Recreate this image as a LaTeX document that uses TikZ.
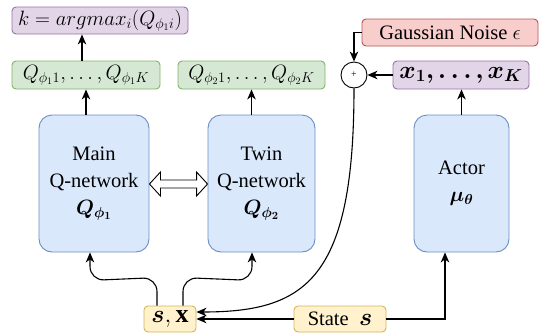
\documentclass[tikz,border=0pt]{standalone}
\usepackage{fontspec}
\usepackage{amsmath,bm}
\setmainfont{Liberation Serif}
\usetikzlibrary{arrows.meta,calc}
\definecolor{bfill}{HTML}{DAE8FC}\definecolor{bline}{HTML}{6C8EBF}
\definecolor{gfill}{HTML}{D5E8D4}\definecolor{gline}{HTML}{82B366}
\definecolor{pfill}{HTML}{E1D5E7}\definecolor{pline}{HTML}{9673A6}
\definecolor{rfill}{HTML}{F8CECC}\definecolor{rline}{HTML}{B85450}
\definecolor{yfill}{HTML}{FFF2CC}\definecolor{yline}{HTML}{D6B656}
\begin{document}
\begin{tikzpicture}[x=1pt,y=-1pt,
  base/.style={draw, line width=0.9pt, rounded corners=4pt, inner sep=0pt, font=\fontsize{20.5}{24}\selectfont},
  purp/.style={base, fill=pfill, draw=pline},
  grn/.style={base, fill=gfill, draw=gline},
  red/.style={base, fill=rfill, draw=rline},
  yel/.style={base, fill=yfill, draw=yline},
  net/.style={base, fill=bfill, draw=bline, rounded corners=13pt, align=center, font=\fontsize{20.5}{27}\selectfont},
  conn/.style={line width=1.1pt, -{Stealth[length=10pt,width=8.5pt,inset=3pt]}}
]
\useasboundingbox (0,0) rectangle (542,333);
\node[purp, minimum width=176pt, minimum height=27pt] (argmax) at (100,20.5) {$k=argmax_i(Q_{\phi_1 i})$};
\node[grn, minimum width=148pt, minimum height=28pt] (q1) at (86,75) {$Q_{\phi_1 1},\ldots,Q_{\phi_1 K}$};
\node[grn, minimum width=147pt, minimum height=28pt] (q2) at (251.5,75) {$Q_{\phi_2 1},\ldots,Q_{\phi_2 K}$};
\node[red, minimum width=176pt, minimum height=27pt] (noise) at (450,32.5) {Gaussian Noise $\epsilon$};
\node[draw, circle, line width=0.9pt, minimum size=26pt, inner sep=0pt, font=\fontsize{10}{10}\selectfont] (plus) at (354,75) {+};
\node[purp, minimum width=136pt, minimum height=28pt, font=\fontsize{25}{28}\selectfont] (xs) at (461,75) {$\bm{x_1,\ldots,x_K}$};
\node[net, minimum width=110pt, minimum height=137pt] (main) at (94,183.5) {Main\\Q-network\\{\fontsize{22}{27}\selectfont$\bm{Q_{\phi_1}}$}};
\node[net, minimum width=107pt, minimum height=137pt] (twin) at (261.5,183.5) {Twin\\Q-network\\{\fontsize{22}{27}\selectfont$\bm{Q_{\phi_2}}$}};
\node[net, minimum width=95pt, minimum height=137pt] (actor) at (461.5,183.5) {Actor\\{\fontsize{22}{27}\selectfont$\bm{\mu_\theta}$}};
\node[yel, minimum width=52pt, minimum height=26pt, font=\fontsize{26}{28}\selectfont] (sx) at (170,319) {$\bm{s},\mathbf{x}$};
\node[yel, minimum width=92pt, minimum height=26pt] (state) at (340,319) {State\ \ {\fontsize{24}{26}\selectfont$\bm{s}$}};
% arrows
\coordinate (qa) at ($(q1.north)+(-4,0)$);
\draw[conn] (qa) -- (qa |- argmax.south);
\draw[conn] (main.north -| q1.north) -- (q1.south);
\draw[conn] (twin.north -| q2.north) -- (q2.south);
\draw[conn] (actor.north) -- (actor.north |- xs.south);
\draw[conn] (xs.west) -- (plus.east);
\draw[conn] (noise.west) -| (plus.north);
\draw[conn] (plus.south) .. controls ($(plus.south)+(0,190)$) and ($(sx.east)+(110,-7)$) .. ($(sx.east)+(0,-7)$);
\draw[conn] (state.west) -- (sx.east);
\coordinate (sr) at ($(actor.south)+(-16.5,0)$);
\draw[conn] (state.east) -| (sr);
\draw[conn, rounded corners=14pt] ($(sx.north)+(-13,0)$) -- ++(0,-28) -- ($(main.south)+(-4,28)$) -- ($(main.south)+(-4,0)$);
\draw[conn, rounded corners=14pt] ($(sx.north)+(13,0)$) -- ++(0,-28) -- ($(twin.south)+(-9.5,28)$) -- ($(twin.south)+(-9.5,0)$);
% double arrow
\draw[line width=0.9pt, fill=white]
  (main.east |- 0,184) -- ++(11,-12) -- ++(0,8) -- ($(twin.west |- 0,180)+(-11,0)$) -- ++(0,-8) -- (twin.west |- 0,184)
  -- ++(-11,12) -- ++(0,-8) -- ($(main.east |- 0,188)+(11,0)$) -- ++(0,8) -- cycle;
\end{tikzpicture}
\end{document}
